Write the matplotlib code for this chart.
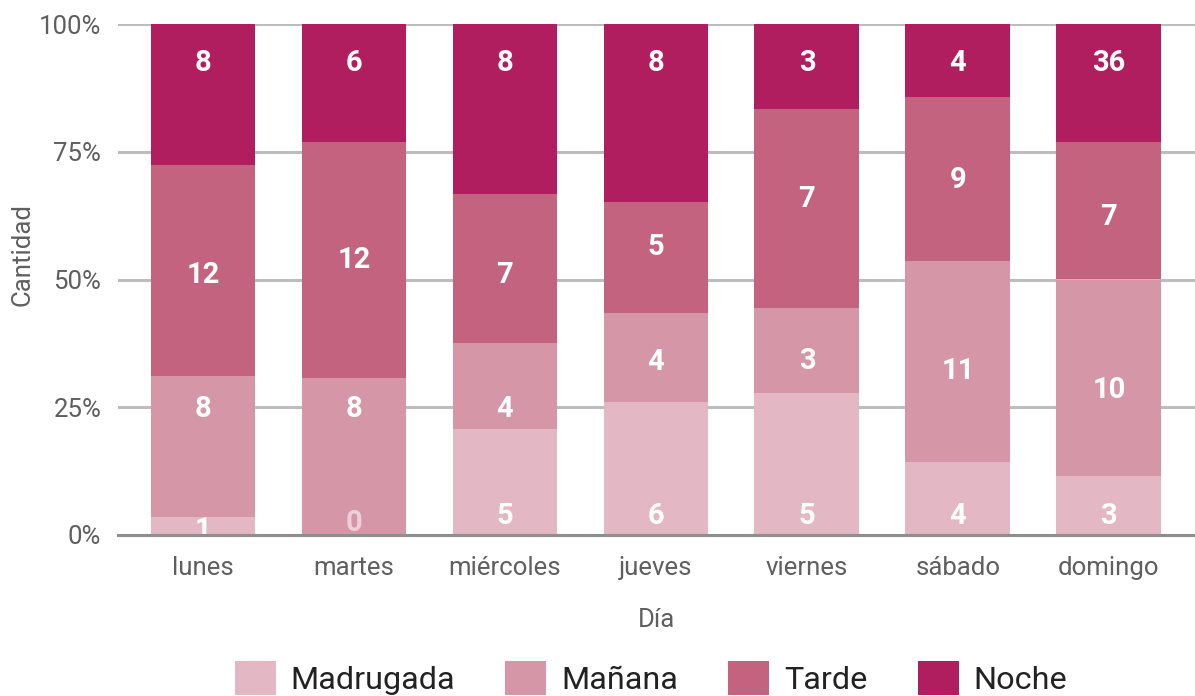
#!/usr/bin/env python3
# 100% stacked bars: franjas horarias por dia de la semana
import numpy as np
import matplotlib
matplotlib.use("Agg")
import matplotlib.pyplot as plt
from matplotlib.patches import Patch
from matplotlib.transforms import offset_copy

dias = ["lunes", "martes", "miércoles", "jueves", "viernes", "sábado", "domingo"]
franjas = ["Madrugada", "Mañana", "Tarde", "Noche"]
madrugada = [1, 0, 5, 6, 5, 4, 3]
manana = [8, 8, 4, 4, 3, 11, 10]
tarde = [12, 12, 7, 5, 7, 9, 7]
noche = [8, 6, 8, 8, 3, 4, 6]
# etiqueta que muestra el original para la noche (domingo dice 36)
noche_labels = ["8", "6", "8", "8", "3", "4", "36"]
y_ticks = [0, 25, 50, 75, 100]

# altura (en % del eje) donde el original coloca cada etiqueta
label_pos = [
    [1.6, 2.9, 4.3, 4.3, 4.3, 4.3, 4.3],
    [25.3, 25.3, 25.3, 34.4, 34.7, 32.7, 29.0],
    [51.5, 54.5, 51.5, 56.9, 66.4, 70.1, 62.8],
    [93.0, 93.0, 93.0, 93.0, 93.0, 93.0, 93.0],
]

COLORS = ["#E3B7C3", "#D597A8", "#C46380", "#B01E60"]
GRID = "#BDBDC0"
TXT = "#5F5F5F"

plt.rcParams["font.family"] = ["Roboto", "DejaVu Sans"]

fig = plt.figure(figsize=(11.95, 6.96), dpi=100)
ax = fig.add_axes([118 / 1195, 1 - 535 / 696, 1 - 118 / 1195, (535 - 24) / 696])

series = [madrugada, manana, tarde, noche]
data = np.array(series, dtype=float)
frac = data / data.sum(axis=0) * 100
x = np.arange(len(dias))
bottom = np.zeros(len(dias))
lab_tr = offset_copy(ax.transData, fig=fig, x=0, y=-3, units="dots")
for i, col in enumerate(COLORS):
    ax.bar(x, frac[i], bottom=bottom, width=0.695, color=col, zorder=2)
    labels = noche_labels if i == 3 else [str(v) for v in series[i]]
    for j in range(len(dias)):
        ax.text(x[j], label_pos[i][j], labels[j], ha="center", va="center",
                color="white", fontsize=21, fontweight="bold", transform=lab_tr,
                alpha=1.0 if series[i][j] > 0 else 0.55, zorder=3, clip_on=True)
    bottom += frac[i]

ax.set_xlim(-0.563, 6.57)
ax.set_ylim(0, 100)
ax.set_yticks(y_ticks)
ax.set_yticklabels([f"{t}%" for t in y_ticks])
ax.set_xticks(x)
ax.set_xticklabels(dias)
ax.tick_params(axis="both", length=0, labelsize=18.5, colors=TXT)
ax.tick_params(axis="y", pad=12)
ax.tick_params(axis="x", pad=15)
ax.yaxis.grid(True, color=GRID, linewidth=2.2, zorder=0)
ax.set_axisbelow(True)
for s in ["top", "right", "left"]:
    ax.spines[s].set_visible(False)
ax.spines["bottom"].set_color("#8E8E90")
ax.spines["bottom"].set_linewidth(2.2)
ax.spines["bottom"].set_zorder(4)

ax.set_ylabel("Cantidad", fontsize=18.5, color=TXT)
ax.yaxis.set_label_coords((35 - 118) / 1077, (535 - 255) / 511)
ax.set_xlabel("Día", fontsize=18.5, color=TXT, labelpad=20)

handles = [Patch(facecolor=c, edgecolor="none") for c in COLORS]
fig.legend(handles, franjas, loc="center", bbox_to_anchor=(651 / 1195, 1 - 678 / 696),
           ncol=4, frameon=False, fontsize=23.3, handlelength=1.27, handleheight=1.27,
           handletextpad=0.46, columnspacing=1.55, labelcolor="#222222",
           borderpad=0.0, borderaxespad=0.0)

fig.savefig("out.png", dpi=100)
